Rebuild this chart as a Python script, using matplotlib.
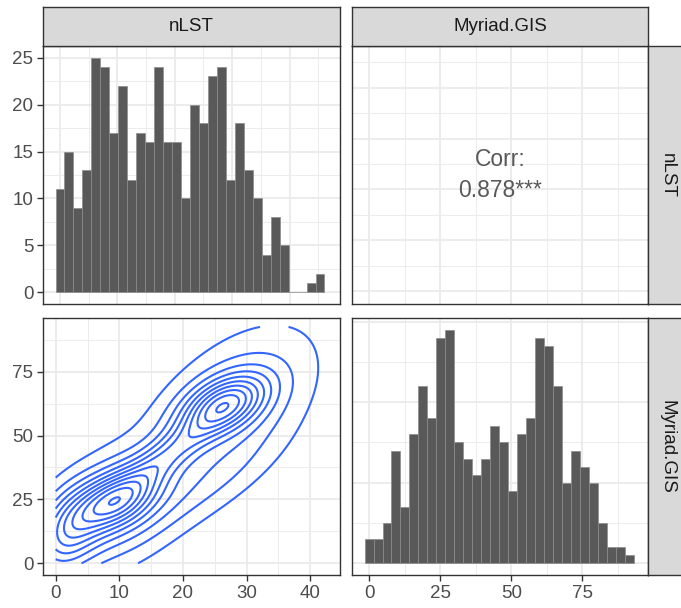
import numpy as np
import matplotlib
matplotlib.use("Agg")
import matplotlib.pyplot as plt
from matplotlib.ticker import MultipleLocator

plt.rcParams['font.family'] = ['Liberation Sans', 'DejaVu Sans']

# ---------------- data ----------------
variables = ['nLST', 'Myriad.GIS']

# histogram of nLST (30 bins, first bin centred on 0)
nlst_counts = [11, 15, 9, 13, 25, 24, 17, 22, 12, 17, 16, 24, 16, 16, 10,
               20, 18, 23, 24, 12, 18, 13, 10, 4, 8, 5, 0, 0, 1, 2]
nlst_bin_width = 1.562

# histogram of Myriad.GIS (30 bins, first bin centred on 0)
myriad_counts = [3, 3, 5, 14, 7, 16, 22, 18, 28, 29, 15, 13, 11, 13, 17,
                 15, 9, 16, 18, 28, 27, 22, 10, 14, 12, 10, 5, 2, 2, 1]
myriad_bin_width = 3.163

corr_label = 'Corr:'
corr_value = '0.878***'

# 2-D density of (nLST, Myriad.GIS): mixture approximation of the KDE
mix_weights = [0.16, 0.27, 0.11, 0.17, 0.35, 0.08, 0.10]
mix_means = [(9.2, 24.4), (8.5, 20.0), (1.5, 11.0), (26.5, 62.0),
             (28.0, 63.0), (18.0, 43.0), (23.0, 32.0)]
mix_sds = [(4.5, 8.0), (7.0, 16.0), (3.5, 11.0), (4.5, 8.0),
           (9.5, 22.0), (5.0, 10.0), (8.0, 15.0)]
mix_rhos = [0.45, 0.35, 0.30, 0.45, 0.50, 0.80, 0.70]
density_xrange = (0.0, 43.0)
density_yrange = (0.0, 92.5)
n_levels_low_peak = 11.1

# ---------------- figure ----------------
W, H = 681, 608
fig = plt.figure(figsize=(W / 100, H / 100), dpi=100)
fig.patch.set_facecolor('white')

def px_axes(x0, y0, x1, y1, **kw):
    return fig.add_axes([x0 / W, 1 - y1 / H, (x1 - x0) / W, (y1 - y0) / H], **kw)

BORDER = '#333333'
GRID = '#EBEBEB'
TICKLAB = '#4D4D4D'
STRIPFILL = '#D9D9D9'
FS = 13.5

cols = [(43, 340), (352, 648)]
rows = [(46, 304), (318, 575)]

def style(ax, xmaj, xmin, ymaj, ymin):
    ax.set_facecolor('white')
    ax.set_axisbelow(True)
    ax.xaxis.set_major_locator(MultipleLocator(xmaj))
    ax.xaxis.set_minor_locator(MultipleLocator(xmin))
    ax.yaxis.set_major_locator(MultipleLocator(ymaj))
    ax.yaxis.set_minor_locator(MultipleLocator(ymin))
    ax.grid(which='major', color=GRID, lw=1.3)
    ax.grid(which='minor', color=GRID, lw=0.65)
    for s in ax.spines.values():
        s.set_color(BORDER)
        s.set_linewidth(1.0)
    ax.tick_params(which='minor', length=0)
    ax.tick_params(which='major', length=4, width=1.0, color=BORDER,
                   labelsize=FS, labelcolor=TICKLAB, pad=3)

# top-left: nLST histogram
ax11 = px_axes(cols[0][0], rows[0][0], cols[0][1], rows[0][1])
centers = np.arange(len(nlst_counts)) * nlst_bin_width
ax11.bar(centers, nlst_counts, width=nlst_bin_width, color='#595959',
         edgecolor='#8c8c8c', linewidth=0.5)
ax11.set_xlim(-2.96, 48.78)
ax11.set_ylim(-1.25, 26.25)
style(ax11, 10, 5, 5, 2.5)
ax11.tick_params(axis='x', which='both', bottom=False, labelbottom=False)

# top-right: correlation text
ax12 = px_axes(cols[1][0], rows[0][0], cols[1][1], rows[0][1])
ax12.set_xlim(-5.98, 98.1)
ax12.set_ylim(-2.56, 48.2)
style(ax12, 25, 12.5, 10, 5)
ax12.tick_params(axis='both', which='both', length=0, labelbottom=False, labelleft=False)
ax12.text(0.5, 0.535, corr_label, transform=ax12.transAxes, ha='center', va='baseline',
          fontsize=16.5, color='#595959')
ax12.text(0.5, 0.416, corr_value, transform=ax12.transAxes, ha='center', va='baseline',
          fontsize=16.5, color='#595959')

# bottom-left: density contours
ax21 = px_axes(cols[0][0], rows[1][0], cols[0][1], rows[1][1])
gx = np.linspace(density_xrange[0], density_xrange[1], 300)
gy = np.linspace(density_yrange[0], density_yrange[1], 300)
GX, GY = np.meshgrid(gx, gy)
Z = np.zeros_like(GX)
for w, (mx, my), (sx, sy), r in zip(mix_weights, mix_means, mix_sds, mix_rhos):
    dx = (GX - mx) / sx
    dy = (GY - my) / sy
    q = (dx ** 2 - 2 * r * dx * dy + dy ** 2) / (1 - r ** 2)
    Z += w * np.exp(-0.5 * q) / (2 * np.pi * sx * sy * np.sqrt(1 - r ** 2))
step = Z.max() / n_levels_low_peak
levels = np.arange(step, Z.max(), step)
ax21.contour(GX, GY, Z, levels=levels, colors='#3366FF', linewidths=1.5)
ax21.set_xlim(-2.0, 44.7)
ax21.set_ylim(-4.58, 96.0)
style(ax21, 10, 5, 25, 12.5)

# bottom-right: Myriad.GIS histogram
ax22 = px_axes(cols[1][0], rows[1][0], cols[1][1], rows[1][1])
centers2 = np.arange(len(myriad_counts)) * myriad_bin_width
ax22.bar(centers2, myriad_counts, width=myriad_bin_width, color='#595959',
         edgecolor='#8c8c8c', linewidth=0.5)
ax22.set_xlim(-5.98, 98.1)
ax22.set_ylim(-1.45, 30.45)
style(ax22, 25, 12.5, 10, 5)
ax22.tick_params(axis='y', which='both', left=False, labelleft=False)

# strips
def strip(x0, y0, x1, y1, text, rot=0):
    ax = px_axes(x0, y0, x1, y1)
    ax.set_xticks([]); ax.set_yticks([])
    ax.set_facecolor(STRIPFILL)
    for s in ax.spines.values():
        s.set_color(BORDER); s.set_linewidth(1.0)
    ax.text(0.5, 0.5, text, transform=ax.transAxes, ha='center', va='center',
            rotation=rot, fontsize=FS, color='#1A1A1A')

strip(cols[0][0], 7, cols[0][1], 46, variables[0])
strip(cols[1][0], 7, cols[1][1], 46, variables[1])
strip(648, rows[0][0], 686, rows[0][1], variables[0], rot=-90)
strip(648, rows[1][0], 686, rows[1][1], variables[1], rot=-90)

fig.savefig('out.png', dpi=100)
